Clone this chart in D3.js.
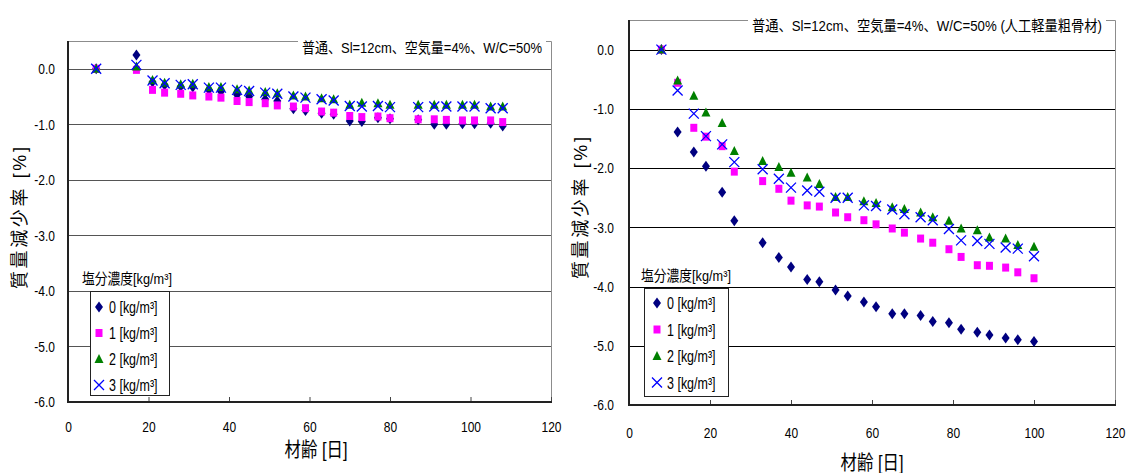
<!DOCTYPE html>
<html>
<head>
<meta charset="utf-8">
<title>質量減少率</title>
<script src="https://d3js.org/d3.v7.min.js"></script>
<style>
body {margin: 0; background: #fff;}
svg text {font-family: "Liberation Sans", Arial, "Noto Sans CJK JP", sans-serif; fill: #000;}
</style>
</head>
<body>
<svg width="1133" height="473"></svg>
<script>
// ---- data ----
var xTicks = [0, 20, 40, 60, 80, 100, 120];
var yTicks = [0, -1, -2, -3, -4, -5, -6];
var legendLabels = ["0 [kg/m³]", "1 [kg/m³]", "2 [kg/m³]", "3 [kg/m³]"];

// 普通 (left)
var leftDays = [7, 17, 21, 24, 28, 31, 35, 38, 42, 45, 49, 52, 56, 59, 63, 66, 70, 73, 77, 80, 87, 91, 94, 98, 101, 105, 108];
var leftS0 = [0, 0.25, -0.24, -0.29, -0.32, -0.33, -0.38, -0.41, -0.47, -0.50, -0.55, -0.58, -0.72, -0.75, -0.80, -0.82, -0.94, -0.95, -0.88, -0.90, -0.92, -1.00, -1.00, -0.99, -0.99, -0.98, -1.03];
var leftS1 = [0, -0.02, -0.38, -0.43, -0.45, -0.48, -0.50, -0.52, -0.58, -0.60, -0.62, -0.66, -0.68, -0.71, -0.77, -0.79, -0.85, -0.87, -0.86, -0.89, -0.91, -0.91, -0.92, -0.93, -0.93, -0.93, -0.96];
var leftS2 = [0, 0.04, -0.20, -0.25, -0.28, -0.27, -0.33, -0.33, -0.37, -0.39, -0.42, -0.44, -0.48, -0.50, -0.53, -0.55, -0.65, -0.61, -0.62, -0.65, -0.65, -0.65, -0.65, -0.65, -0.65, -0.68, -0.68];
var leftS3 = [0, 0.07, -0.21, -0.26, -0.29, -0.28, -0.34, -0.34, -0.38, -0.40, -0.43, -0.45, -0.50, -0.52, -0.55, -0.57, -0.67, -0.68, -0.67, -0.69, -0.69, -0.68, -0.68, -0.68, -0.68, -0.71, -0.71];

// 人工軽量粗骨材 (right)
var rightDays = [8, 12, 16, 19, 23, 26, 33, 37, 40, 44, 47, 51, 54, 58, 61, 65, 68, 72, 75, 79, 82, 86, 89, 93, 96, 100];
var rightS0 = [0, -1.39, -1.73, -1.97, -2.41, -2.89, -3.26, -3.51, -3.67, -3.88, -3.92, -4.06, -4.16, -4.26, -4.34, -4.46, -4.46, -4.49, -4.59, -4.61, -4.72, -4.77, -4.82, -4.87, -4.90, -4.93];
var rightS1 = [0, -0.56, -1.32, -1.47, -1.63, -2.06, -2.22, -2.35, -2.55, -2.63, -2.65, -2.75, -2.83, -2.88, -2.95, -3.02, -3.09, -3.19, -3.26, -3.37, -3.50, -3.64, -3.65, -3.68, -3.76, -3.86];
var rightS2 = [0, -0.52, -0.78, -1.06, -1.24, -1.71, -1.88, -1.98, -2.08, -2.16, -2.27, -2.49, -2.49, -2.56, -2.59, -2.66, -2.69, -2.75, -2.83, -2.89, -3.02, -3.05, -3.17, -3.19, -3.30, -3.33];
var rightS3 = [0, -0.69, -1.08, -1.46, -1.60, -1.90, -2.02, -2.18, -2.33, -2.38, -2.40, -2.50, -2.50, -2.63, -2.64, -2.70, -2.78, -2.83, -2.88, -3.03, -3.22, -3.23, -3.28, -3.34, -3.36, -3.49];

// ---- marker styles ----
var colors = ["#000080", "#ff00ff", "#008000", "#0000ff"];
var shapes = [
  "M0,-5.5L4,0L0,5.5L-4,0Z",          // diamond
  "M-3.5,-4H3.5V4H-3.5Z",             // square
  "M0,-5L4.5,4H-4.5Z",                // triangle
  "M-5,-5L5,5M5,-5L-5,5"              // x
];

var svg = d3.select("svg");

// squeeze text horizontally (the original uses a narrow face)
function narrow(sel, f) {
  sel.each(function() {
    var w = this.getComputedTextLength();
    d3.select(this).attr("textLength", w * f).attr("lengthAdjust", "spacingAndGlyphs");
  });
}

function drawPanel(p) {
  var g = svg.append("g");
  var x = d3.scaleLinear().domain([0, 120]).range([p.x0, p.x1]);
  var y = d3.scaleLinear().domain([-6, 0.5]).range([p.y1, p.y0]);
  var tx0 = p.titleX - p.titleW - 4, tx1 = p.titleX + 4;

  // plot border: top is broken where the title sits
  g.append("path")
    .attr("d", "M" + p.x0 + "," + (p.y0 + 0.5) + "H" + tx0 +
               "M" + tx1 + "," + (p.y0 + 0.5) + "H" + (p.x1 + 0.5) + "V" + p.y1)
    .attr("fill", "none").attr("stroke", "#8c8c8c").attr("stroke-width", 1);

  // gridlines
  g.selectAll(".grid").data(yTicks.filter(function(d) { return d > -6; }))
    .enter().append("line")
    .attr("x1", p.x0).attr("x2", p.x1)
    .attr("y1", function(d) { return Math.round(y(d)) + 0.5; })
    .attr("y2", function(d) { return Math.round(y(d)) + 0.5; })
    .attr("stroke", p.gridColor).attr("stroke-width", 1);

  // axes
  var ax = g.append("g").attr("transform", "translate(0," + p.y1 + ")")
    .call(d3.axisBottom(x).tickValues(xTicks).tickSize(-5).tickPadding(p.xPad));
  ax.select(".domain").remove();
  ax.selectAll("line").attr("stroke", "#444");
  ax.selectAll("text").style("font-size", "15px").call(narrow, 0.8);

  var ay = g.append("g").attr("transform", "translate(" + p.x0 + ",0)")
    .call(d3.axisLeft(y).tickValues(yTicks).tickSize(0).tickPadding(p.yPad)
      .tickFormat(function(d) { return d.toFixed(1); }));
  ay.select(".domain").remove();
  ay.selectAll("text").style("font-size", "15px").call(narrow, 0.8);

  g.append("line").attr("x1", p.x0).attr("x2", p.x0).attr("y1", p.y0).attr("y2", p.y1 + 1)
    .attr("stroke", "#222").attr("stroke-width", 2);
  g.append("line").attr("x1", p.x0 - 1).attr("x2", p.x1 + 1).attr("y1", p.y1).attr("y2", p.y1)
    .attr("stroke", "#222").attr("stroke-width", 2);

  // series
  p.series.forEach(function(vals, k) {
    g.append("g").selectAll("path").data(vals).enter().append("path")
      .attr("transform", function(d, i) { return "translate(" + x(p.days[i]) + "," + y(d) + ")"; })
      .attr("d", shapes[k])
      .attr("fill", k == 3 ? "none" : colors[k])
      .attr("stroke", k == 3 ? colors[k] : "none")
      .attr("stroke-width", 1.3);
  });

  // title
  g.append("text").attr("x", p.titleX).attr("y", p.titleY)
    .attr("text-anchor", "end").style("font-size", "15px")
    .attr("textLength", p.titleW).attr("lengthAdjust", "spacingAndGlyphs")
    .text(p.title);

  // axis titles
  g.append("text")
    .attr("transform", "translate(" + p.yTitleX + "," + p.yTitleY + ") rotate(-90)")
    .attr("text-anchor", "middle").style("font-size", "18px")
    .attr("textLength", 142).attr("lengthAdjust", "spacing")
    .text("質量減少率 [%]");
  g.append("text").attr("x", p.xTitleX).attr("y", p.xTitleY)
    .attr("text-anchor", "middle").style("font-size", "20px")
    .text("材齢 [日]").call(narrow, 0.82);

  // legend
  var L = p.legend;
  g.append("text").attr("x", L.titleX).attr("y", L.titleY)
    .style("font-size", "15px").text("塩分濃度[kg/m³]").call(narrow, 0.85);
  g.append("rect").attr("x", L.x + 0.5).attr("y", L.y + 0.5).attr("width", L.w).attr("height", L.h)
    .attr("fill", "#fff").attr("stroke", "#222");
  legendLabels.forEach(function(lab, k) {
    var cy = L.rowY + k * L.step;
    g.append("path").attr("transform", "translate(" + L.markX + "," + cy + ")")
      .attr("d", shapes[k])
      .attr("fill", k == 3 ? "none" : colors[k])
      .attr("stroke", k == 3 ? colors[k] : "none")
      .attr("stroke-width", 1.3);
    g.append("text").attr("x", L.markX + 10).attr("y", cy + 6)
      .style("font-size", "16px").text(lab).call(narrow, 0.78);
  });
}

drawPanel({
  x0: 68, x1: 551, y0: 41, y1: 402,
  days: leftDays, series: [leftS0, leftS1, leftS2, leftS3],
  gridColor: "#555",
  xPad: 19, yPad: 13,
  title: "普通、Sl=12cm、空気量=4%、W/C=50%", titleX: 542, titleY: 53, titleW: 240,
  yTitleX: 26, yTitleY: 218,
  xTitleX: 316, xTitleY: 457,
  legend: {titleX: 82, titleY: 284, x: 90, y: 291, w: 79, h: 104, markX: 99, rowY: 307, step: 26}
});

drawPanel({
  x0: 629, x1: 1115, y0: 20, y1: 405,
  days: rightDays, series: [rightS0, rightS1, rightS2, rightS3],
  gridColor: "#000",
  xPad: 22, yPad: 15,
  title: "普通、Sl=12cm、空気量=4%、W/C=50% (人工軽量粗骨材)", titleX: 1102, titleY: 31, titleW: 350,
  yTitleX: 587, yTitleY: 208,
  xTitleX: 872, xTitleY: 470,
  legend: {titleX: 641, titleY: 281, x: 644, y: 288, w: 84, h: 108, markX: 657, rowY: 303, step: 26.5}
});
</script>
</body>
</html>
